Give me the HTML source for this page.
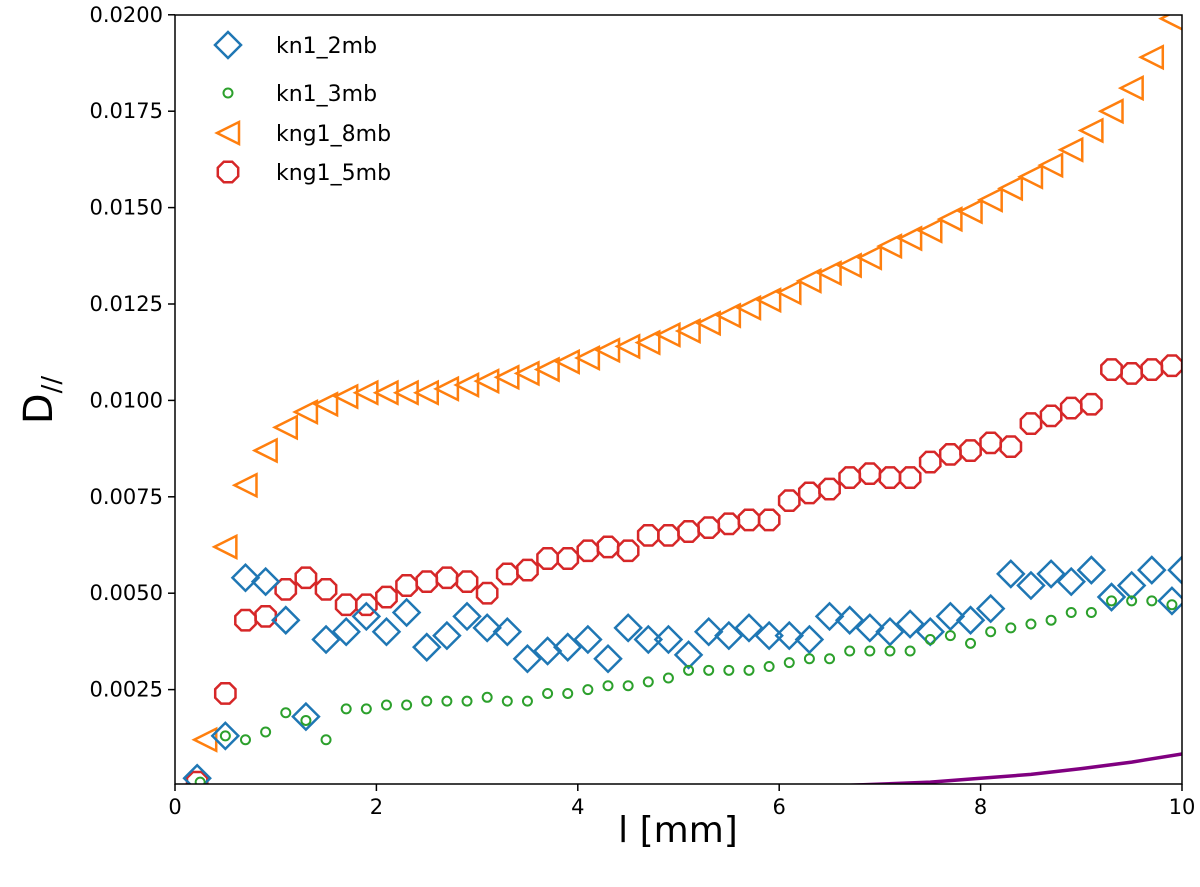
<!DOCTYPE html>
<html><head><meta charset="utf-8"><style>
body{margin:0;background:#fff;}
svg{display:block;font-family:"DejaVu Sans","Liberation Sans",sans-serif;}
</style></head><body>
<svg id="chart" width="1200" height="887"></svg>
<script>
const xTicks=[0,2,4,6,8,10];
const yTicks=[0.0025,0.0050,0.0075,0.0100,0.0125,0.0150,0.0175,0.0200];
const yTickLabels=["0.0025","0.0050","0.0075","0.0100","0.0125","0.0150","0.0175","0.0200"];
const seriesNames=["kn1_2mb","kn1_3mb","kng1_8mb","kng1_5mb"];
const kn1_2mbX0=0.22, kng1_8mbX0=0.3;
const kn1_2mb=[0.0002,0.0013,0.0054,0.0053,0.0043,0.0018,0.0038,0.0040,0.0044,0.0040,0.0045,0.0036,0.0039,0.0044,0.0041,0.0040,0.0033,0.0035,0.0036,0.0038,0.0033,0.0041,0.0038,0.0038,0.0034,0.0040,0.0039,0.0041,0.0039,0.0039,0.0038,0.0044,0.0043,0.0041,0.0040,0.0042,0.0040,0.0044,0.0043,0.0046,0.0055,0.0052,0.0055,0.0053,0.0056,0.0049,0.0052,0.0056,0.0048,0.0056];
const kn1_3mb=[0.0001,0.0013,0.0012,0.0014,0.0019,0.0017,0.0012,0.0020,0.0020,0.0021,0.0021,0.0022,0.0022,0.0022,0.0023,0.0022,0.0022,0.0024,0.0024,0.0025,0.0026,0.0026,0.0027,0.0028,0.0030,0.0030,0.0030,0.0030,0.0031,0.0032,0.0033,0.0033,0.0035,0.0035,0.0035,0.0035,0.0038,0.0039,0.0037,0.0040,0.0041,0.0042,0.0043,0.0045,0.0045,0.0048,0.0048,0.0048,0.0047];
const kng1_8mb=[0.0012,0.0062,0.0078,0.0087,0.0093,0.0097,0.0099,0.0101,0.0102,0.0102,0.0102,0.0102,0.0103,0.0104,0.0105,0.0106,0.0107,0.0108,0.0110,0.0111,0.0113,0.0114,0.0115,0.0117,0.0118,0.0120,0.0122,0.0124,0.0126,0.0128,0.0131,0.0133,0.0135,0.0137,0.0140,0.0142,0.0144,0.0147,0.0149,0.0152,0.0155,0.0158,0.0161,0.0165,0.0170,0.0175,0.0181,0.0189,0.0199];
const kng1_5mb=[0.0001,0.0024,0.0043,0.0044,0.0051,0.0054,0.0051,0.0047,0.0047,0.0049,0.0052,0.0053,0.0054,0.0053,0.0050,0.0055,0.0056,0.0059,0.0059,0.0061,0.0062,0.0061,0.0065,0.0065,0.0066,0.0067,0.0068,0.0069,0.0069,0.0074,0.0076,0.0077,0.0080,0.0081,0.0080,0.0080,0.0084,0.0086,0.0087,0.0089,0.0088,0.0094,0.0096,0.0098,0.0099,0.0108,0.0107,0.0108,0.0109];
const curveX=[6.5,7,7.5,8,8.5,9,9.5,10];
const curveY=[0,0.00005,0.0001,0.0002,0.0003,0.00045,0.00062,0.00083];

const NS="http://www.w3.org/2000/svg";
const svg=document.getElementById('chart');
const L=175,R=1182,T=15,B=784;
const xS=v=>L+(v/10)*(R-L);
const yS=v=>786-v*38560;
function mk(tag,at,parent){const e=document.createElementNS(NS,tag);for(const k in at)e.setAttribute(k,at[k]);(parent||svg).appendChild(e);return e;}
function xsFor(first,n){const a=[first];for(let i=1;i<n;i++)a.push(0.3+0.2*i);return a;}
function xsOrange(n){const a=[];for(let i=0;i<n;i++)a.push(kng1_8mbX0+0.2*i);return a;}

const clip=mk('clipPath',{id:'pc'});mk('rect',{x:L,y:T,width:R-L,height:B-T},clip);
const plot=mk('g',{'clip-path':'url(#pc)'});



function marker(type,cx,cy,g){
  let e;
  if(type==='diamond'){const r=13;e=mk('polygon',{points:`${cx},${cy-r} ${cx+r},${cy} ${cx},${cy+r} ${cx-r},${cy}`,fill:'none',stroke:'#1f77b4','stroke-width':2.5},g);}
  else if(type==='circle'){e=mk('circle',{cx,cy,r:4.5,fill:'none',stroke:'#2ca02c','stroke-width':2},g);}
  else if(type==='tri'){const r=11;e=mk('polygon',{points:`${cx-r},${cy} ${cx+r},${cy-r} ${cx+r},${cy+r}`,fill:'none',stroke:'#ff7f0e','stroke-width':2.5},g);}
  else {const r=11;let p=[];for(let i=0;i<8;i++){const a=Math.PI/8+i*Math.PI/4;p.push((cx+r*Math.cos(a)).toFixed(1)+','+(cy+r*Math.sin(a)).toFixed(1));}e=mk('polygon',{points:p.join(' '),fill:'none',stroke:'#d62728','stroke-width':2.5},g);}
  return e;
}
function series(vals,xs,type,name){
  const g=mk('g',{},plot);
  
  
  vals.forEach((v,i)=>{const m=marker(type,xS(xs[i]),yS(v),g);
    
    });
}
// purple curve
let d='';curveX.forEach((x,i)=>{d+=(i?'L':'M')+xS(x).toFixed(1)+','+yS(curveY[i]).toFixed(1);});
const pc=mk('path',{d,fill:'none',stroke:'#800080','stroke-width':3.5},plot);


series(kng1_8mb,xsOrange(kng1_8mb.length),'tri','kng1_8mb');
series(kng1_5mb,xsFor(kn1_2mbX0,kng1_5mb.length),'oct','kng1_5mb');
const bx=xsFor(kn1_2mbX0,kn1_2mb.length-1);bx.push(10);
series(kn1_2mb,bx,'diamond','kn1_2mb');
series(kn1_3mb,xsFor(0.25,kn1_3mb.length),'circle','kn1_3mb');

const frame=mk('rect',{x:L,y:T,width:R-L,height:B-T,fill:'none',stroke:'#000','stroke-width':1.5});


xTicks.forEach(t=>{const x=xS(t);mk('line',{x1:x,x2:x,y1:B,y2:B+7,stroke:'#000','stroke-width':1.5});
  const tx=mk('text',{x,y:B+30,'text-anchor':'middle','font-size':21});tx.textContent=t;
  
  });
yTicks.forEach((t,i)=>{const y=yS(t);mk('line',{x1:L-7,x2:L,y1:y,y2:y,stroke:'#000','stroke-width':1.5});
  const tx=mk('text',{x:L-12,y:y+7,'text-anchor':'end','font-size':21});tx.textContent=yTickLabels[i];
  
  });
const xl=mk('text',{x:678,y:842,'text-anchor':'middle','font-size':36});xl.textContent='l [mm]';


const yl=mk('text',{x:0,y:0,'text-anchor':'middle','font-size':40,transform:'translate(52,400) rotate(-90)'});
yl.innerHTML='D<tspan font-size="26" dy="8">//</tspan>';



const types=['diamond','circle','tri','oct'];
const ly=[45,93,133,172];
seriesNames.forEach((n,i)=>{const g=mk('g',{});
  
  
  marker(types[i],228,ly[i],g);
  const t=mk('text',{x:276,y:ly[i]+8,'font-size':22},g);t.textContent=n;});
</script>
</body></html>
